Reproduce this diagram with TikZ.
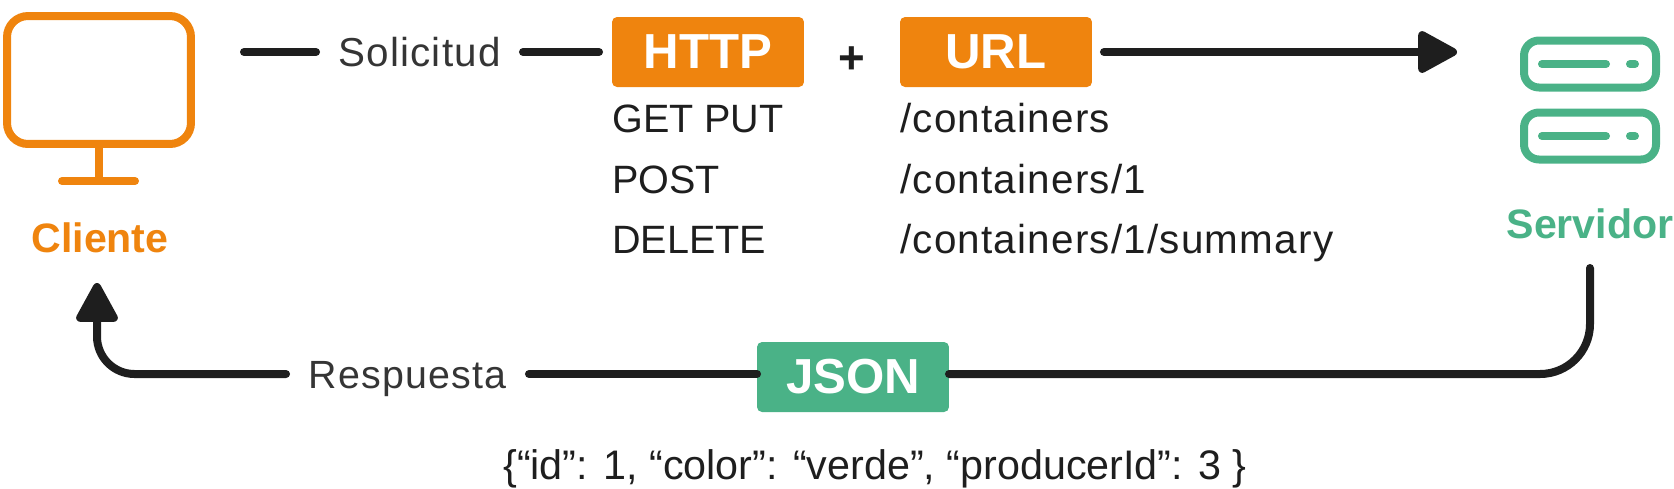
\documentclass[tikz,border=0pt]{standalone}
\usepackage{xcolor}
\usepackage{fontspec}
\setmainfont[LetterSpace=3]{Liberation Sans}
\newfontfamily\plainsans{Liberation Sans}
\usetikzlibrary{calc,arrows.meta}
\definecolor{apiorange}{RGB}{239, 132, 14}
\definecolor{apigreen}{RGB}{74, 178, 135}
\definecolor{apidark}{RGB}{30, 30, 30}
\tikzset{
  conn/.style={draw=apidark, line width=0.16cm, line cap=round},
  tag/.style={fill=#1, text=white, font=\plainsans\fontsize{28}{32}\selectfont\bfseries, rounded corners=0.1cm,
    minimum width=3.84cm, minimum height=1.4cm, inner sep=0pt, outer sep=0pt},
  listtext/.style={anchor=base west, inner sep=0pt, text=apidark, font=\fontsize{23}{26}\selectfont},
  listcaps/.style={anchor=base west, inner sep=0pt, text=apidark, font=\plainsans\fontsize{22.5}{26}\selectfont},
  flowtext/.style={inner sep=0pt, outer sep=0pt, text=apidark!90, text height=0.56cm, text depth=0cm,
    font=\fontsize{23}{26}\selectfont},
  icontext/.style={inner sep=0pt, anchor=base, text=#1, font=\plainsans\fontsize{23.4}{27}\selectfont\bfseries},
  rack/.style={draw=apigreen, line width=0.16cm, rounded corners=0.3cm, minimum width=2.64cm,
    minimum height=0.94cm, inner sep=0pt, outer sep=0pt},
  rackline/.style={draw=apigreen, line width=0.16cm, line cap=round},
  tip/.style={-{Triangle[length=0.87cm, width=0.9cm, round]}}
}
\begin{document}
\begin{tikzpicture}[x=0.02cm, y=-0.02cm]
\useasboundingbox (0,0) rectangle (1674,488);
% Cliente
\node[draw=apiorange, line width=0.16cm, rounded corners=0.42cm, minimum width=3.68cm, minimum height=2.56cm,
  inner sep=0pt, outer sep=0pt] (monitor) at (99,80) {};
\coordinate (baseL) at (62,181);
\coordinate (baseR) at (135,181);
\coordinate (baseM) at (99,181);
\draw[draw=apiorange, line width=0.16cm] (monitor.south) -- (baseM);
\draw[draw=apiorange, line width=0.16cm, line cap=round] (baseL) -- (baseR);
\node[icontext=apiorange] (cliente) at (100,252) {Cliente};

% Solicitud
\coordinate (solStart) at (244,52);
\node[flowtext, minimum width=4.14cm] (solicitud) at (419.5,52) {Solicitud};
\node[tag=apiorange] (http) at (708,52) {HTTP};
\node[font=\plainsans\fontsize{26}{30}\selectfont\bfseries, text=apidark, inner sep=0pt] (plus) at (852,60) {+};
\node[tag=apiorange] (url) at (996,52) {URL};
\coordinate (solEnd) at (1457,52);
\draw[conn] (solStart) -- (solicitud);
\draw[conn, shorten >=0.26cm] (solicitud) -- (http);
\draw[conn, tip, shorten <=0.24cm] (url) -- (solEnd);

% Metodos y rutas
\node[listcaps] (get) at (612,132) {GET PUT};
\node[listcaps] (post) at (612,193) {POST};
\node[listcaps] (delete) at (612,253) {DELETE};
\node[listtext] (pathA) at (900,132) {/containers};
\node[listtext] (pathB) at (900,193) {/containers/1};
\node[listtext] (pathC) at (900,253) {/containers/1/summary};

% Servidor
\node[rack] (rackA) at (1590,64) {};
\node[rack] (rackB) at (1590,136) {};
\foreach \rk/\yy in {A/64,B/136}{
  \coordinate (led\rk) at (1630,\yy);
  \coordinate (ledEnd\rk) at (1635,\yy);
  \coordinate (bar\rk) at (1542,\yy);
  \coordinate (barEnd\rk) at (1606,\yy);
  \draw[rackline] (bar\rk) -- (barEnd\rk);
  \draw[rackline] (led\rk) -- (ledEnd\rk);
}
\node[icontext=apigreen] (servidor) at (1590,238) {Servidor};

% Respuesta
\coordinate (resStart) at (1590,268);
\coordinate (resEnd) at (97,283);
\node[tag=apigreen] (json) at (853,377) {JSON};
\node[flowtext, minimum width=4.86cm] (respuesta) at (407.5,374) {\fontsize{22.4}{26}\selectfont Respuesta};
\draw[conn, rounded corners=1cm] (resStart) |- ($(json.east)+(0,-3)$);
\draw[conn] ($(json.west)+(0,-3)$) -- (respuesta);
\draw[conn, tip, rounded corners=0.75cm] (respuesta) -| (resEnd);

\node[inner sep=0pt, text=apidark, font=\plainsans\fontsize{23.5}{26}\selectfont] (sample) at (875,469) {\{“id”: 1, “color”: “verde”, “producerId”: 3 \}};
\end{tikzpicture}
\end{document}
